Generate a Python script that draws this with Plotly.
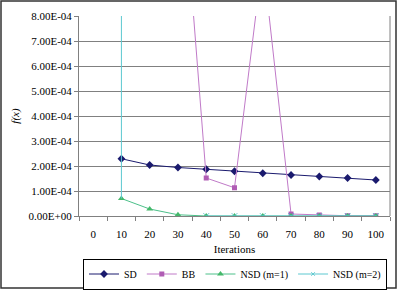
import plotly.graph_objects as go

iterations = [0, 10, 20, 30, 40, 50, 60, 70, 80, 90, 100]
sd = [None, 2.29e-4, 2.04e-4, 1.94e-4, 1.87e-4, 1.79e-4, 1.71e-4, 1.64e-4, 1.58e-4, 1.52e-4, 1.44e-4]
bb = [None, None, None, 1.6e-3, 1.52e-4, 1.13e-4, 1.03e-3, 8e-6, 4e-6, 1e-6, 1e-6]
nsd1 = [None, 7.0e-5, 2.8e-5, 5e-6, 0, 0, 0, 0, 0, 0, 0]
nsd2_x = [10, 10, 20, 30, 40, 50, 60, 70, 80, 90, 100]
nsd2 = [2e-3, 7.0e-5, None, None, 0, 0, 0, 0, 0, 0, 0]
ytick_vals = [0, 1e-4, 2e-4, 3e-4, 4e-4, 5e-4, 6e-4, 7e-4, 8e-4]
ytick_text = ["0.00E+00", "1.00E-04", "2.00E-04", "3.00E-04", "4.00E-04",
              "5.00E-04", "6.00E-04", "7.00E-04", "8.00E-04"]

FONT = "Liberation Serif"
fig = go.Figure()
fig.add_trace(go.Scatter(x=iterations, y=sd, name="SD", mode="lines+markers",
                         line=dict(color="#1a1a6e", width=1),
                         marker=dict(symbol="diamond", size=6, color="#1a1a6e")))
fig.add_trace(go.Scatter(x=iterations, y=bb, name="BB", mode="lines+markers",
                         line=dict(color="#c07ac8", width=1),
                         marker=dict(symbol="square", size=5, color="#b05cb4")))
fig.add_trace(go.Scatter(x=iterations, y=nsd1, name="NSD (m=1)", mode="lines+markers",
                         line=dict(color="#4cc08a", width=1),
                         marker=dict(symbol="triangle-up", size=6, color="#44b86a")))
fig.add_trace(go.Scatter(x=nsd2_x, y=nsd2, name="NSD (m=2)", mode="lines+markers",
                         line=dict(color="#5cc8d0", width=1),
                         marker=dict(symbol="x-thin", size=[0 if x <= 30 else 6 for x in nsd2_x],
                                     color="#44c0c8", line=dict(width=1, color="#44c0c8"))))

L, R, T, B = 79, 8, 16, 76
W, H = 398, 292
pw, ph = W - L - R, H - T - B
fig.add_shape(type="rect", xref="paper", yref="paper",
              x0=(1 - L) / pw, x1=(396 - L) / pw, y0=(H - B - 288) / ph, y1=(H - B - 1) / ph,
              line=dict(color="#333333", width=1.5), fillcolor="rgba(0,0,0,0)")
fig.add_shape(type="line", xref="paper", yref="paper", x0=1, x1=1, y0=0, y1=1,
              line=dict(color="#808080", width=1))

fig.update_layout(
    width=W, height=H, margin=dict(l=L, r=R, t=T, b=B, autoexpand=False),
    paper_bgcolor="white", plot_bgcolor="white",
    font=dict(family=FONT, size=11, color="black"),
    showlegend=True,
    legend=dict(orientation="h", xref="container", yref="container",
                x=235 / W, xanchor="center", y=1 - 274 / H, yanchor="middle",
                bordercolor="black", borderwidth=1, bgcolor="white",
                font=dict(family=FONT, size=10), itemwidth=30, tracegroupgap=0),
    xaxis=dict(range=[-5, 105], tickmode="array", tickvals=iterations,
               ticktext=[str(v) for v in iterations], ticks="", ticklabelstandoff=8,
               showgrid=False, zeroline=False, showline=True, linecolor="#808080",
               minor=dict(ticks="outside", ticklen=4, tickcolor="#808080",
                          tickmode="linear", tick0=-5, dtick=10, showgrid=False),
               title=dict(text="Iterations", font=dict(size=11), standoff=6)),
    yaxis=dict(range=[0, 8e-4], tickmode="array", tickvals=ytick_vals, ticktext=ytick_text,
               ticks="outside", ticklen=4, tickcolor="#808080",
               showgrid=True, gridcolor="#808080", gridwidth=1, zeroline=False,
               showline=True, linecolor="#808080",
               title=dict(text="<i>f(x)</i>", font=dict(size=11), standoff=6)),
)
fig.write_html("out.html")
